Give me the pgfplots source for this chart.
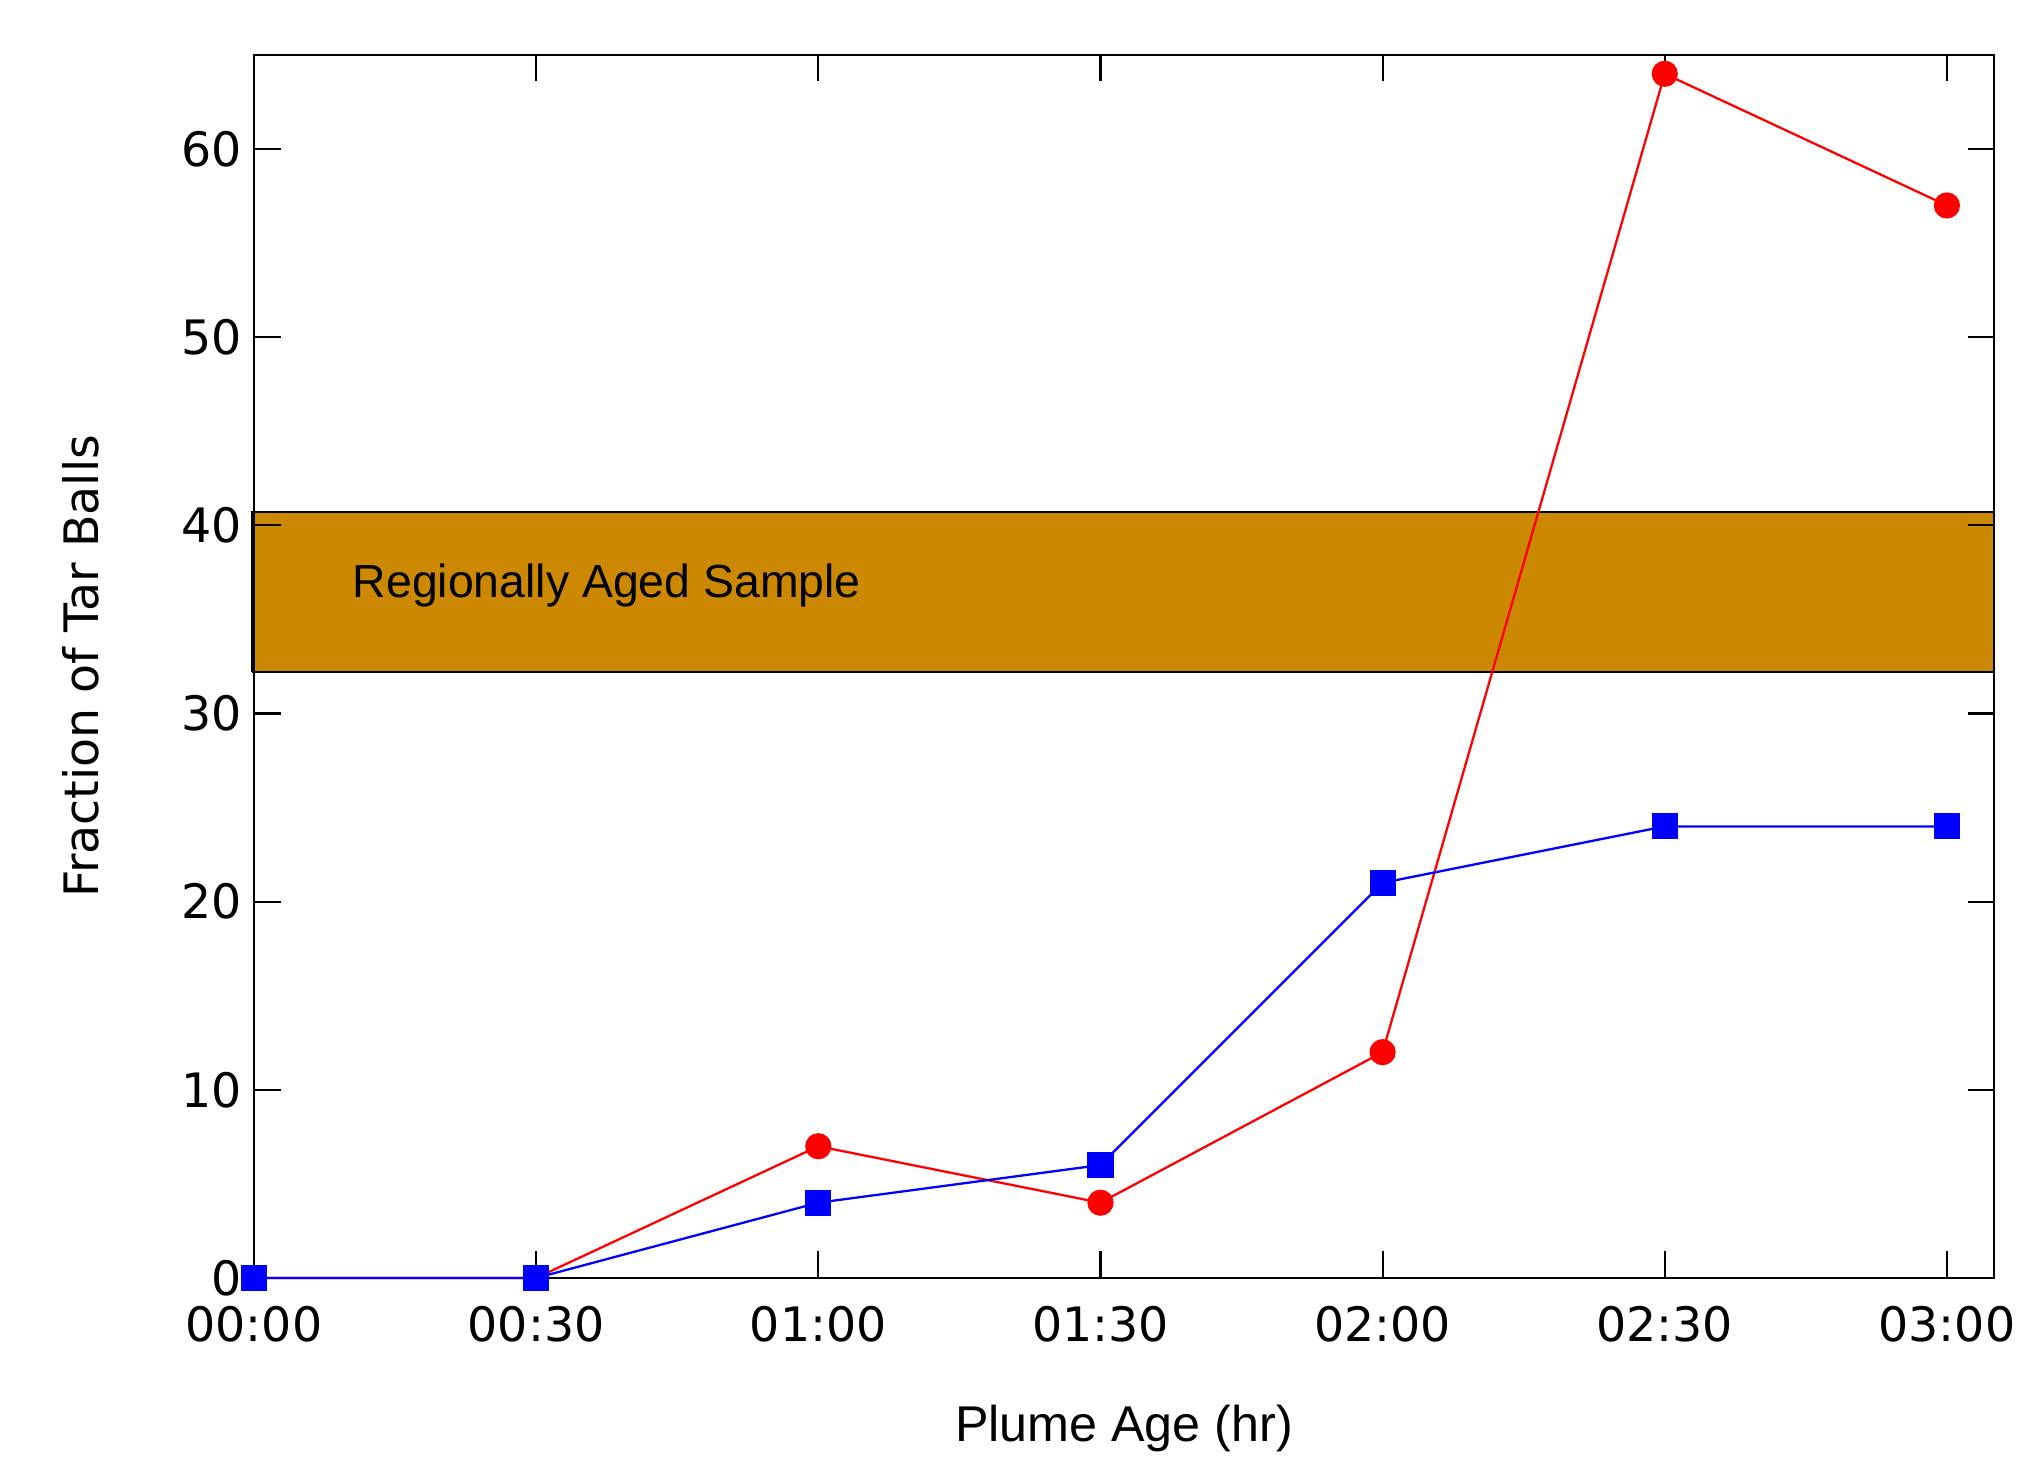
\documentclass[border=0pt]{standalone}
\usepackage{fontspec}
\usepackage{graphicx}
\usepackage{pgfplots}
\pgfplotsset{compat=1.18}
\newfontfamily\dejavu{DejaVu Sans}
\newfontfamily\libsans{Liberation Sans}
\definecolor{bandc}{RGB}{204,136,0}
\begin{document}
\begin{tikzpicture}
\begin{axis}[
  set layers=standard,
  scale only axis, width=174mm, height=122.3mm,
  xmin=0, xmax=3.0835, ymin=0, ymax=65,
  xtick={0,0.5,1,1.5,2,2.5,3},
  xticklabels={00:00,00:30,01:00,01:30,02:00,02:30,03:00},
  ytick={0,10,20,30,40,50,60},
  tick align=inside, tick pos=both,
  major tick length=2.65mm,
  minor tick num=0,
  axis line style={line width=0.6pt, black},
  every tick/.style={line width=0.6pt, black},
  tick label style={font=\dejavu\fontsize{13.5}{16}\selectfont},
  /pgf/number format/assume math mode=true,
  xticklabel style={yshift=-1.6mm},
  xlabel={Plume Age (hr)}, ylabel={Fraction of Tar Balls},
  xlabel style={font=\libsans\fontsize{14.3}{17}\selectfont, at={(axis description cs:0.5,-0.1341)}, anchor=base},
  ylabel style={font=\dejavu\fontsize{13.5}{16}\selectfont, at={(axis description cs:-0.0891,0.5)}, anchor=base},
  clip=false,
]
\addplot[draw=black, fill=bandc, line width=0.6pt, on layer=axis background, forget plot]
  coordinates {(-0.003,32.2) (3.0835,32.2) (3.0835,40.7) (-0.003,40.7) (-0.003,32.2)};
\node[font=\libsans\fontsize{13.2}{16}\selectfont, anchor=base west, inner sep=0pt]
  at (axis cs:0.1737,36.17) {Regionally Aged Sample};
\addplot[red, line width=0.65pt, mark=*, mark size=3.4pt, mark options={solid, fill=red, draw=red}]
  coordinates {(0,0) (0.5,0) (1,7) (1.5,4) (2,12) (2.5,64) (3,57)};
\addplot[blue, line width=0.65pt, mark=square*, mark size=3.4pt, mark options={solid, fill=blue, draw=blue}]
  coordinates {(0,0) (0.5,0) (1,4) (1.5,6) (2,21) (2.5,24) (3,24)};
\end{axis}
\pgfresetboundingbox
\useasboundingbox ([shift={(-25.4mm,-20mm)}]current axis.south west) rectangle ([shift={(3.8mm,5.5mm)}]current axis.north east);
\end{tikzpicture}
\end{document}
